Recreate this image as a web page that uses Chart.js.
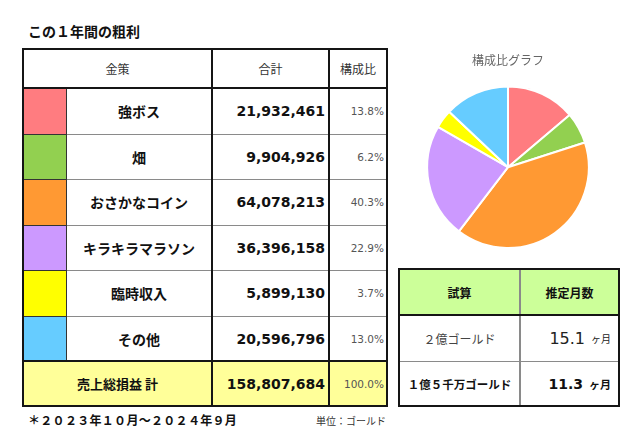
<!DOCTYPE html>
<html><head><meta charset="utf-8">
<script src="https://cdn.jsdelivr.net/npm/chart.js@4"></script>
<style>
html,body{margin:0;padding:0;background:#fff;width:640px;height:446px;overflow:hidden;}
body{position:relative;font-family:"Noto Sans CJK JP","Noto Sans",sans-serif;color:#111;}
.abs{position:absolute;box-sizing:border-box;}
.cell{position:absolute;display:flex;align-items:center;box-sizing:border-box;}
.hl{position:absolute;}
.num{font-family:"DejaVu Sans",sans-serif;font-weight:bold;font-size:14px;justify-content:flex-end;padding-right:4px;}
.pct{font-family:"DejaVu Sans",sans-serif;font-size:10.5px;color:#555;justify-content:flex-end;padding-right:3px;}
.name{font-weight:bold;font-size:14px;justify-content:center;}
.hdr{font-size:12px;color:#333;justify-content:center;}
</style></head>
<body>
<div class="abs" style="left:28px;top:21px;font-size:14px;font-weight:bold;">この１年間の粗利</div>
<div class="abs" style="left:28px;top:411px;font-size:12px;font-weight:bold;letter-spacing:0.3px;">＊２０２３年１０月～２０２４年９月</div>
<div class="abs" style="left:316px;top:413px;font-size:10px;color:#333;">単位：ゴールド</div>
<div id="tbl"></div>
<div class="abs" style="left:408px;top:53px;width:200px;height:196px;"><canvas id="c"></canvas></div>
<script>
const categories = ["強ボス","畑","おさかなコイン","キラキラマラソン","臨時収入","その他"];
const totals = [21932461, 9904926, 64078213, 36396158, 5899130, 20596796];
const shares = ["13.8%","6.2%","40.3%","22.9%","3.7%","13.0%"];
const colors = ["#FF7C80","#92D050","#FF9933","#CC99FF","#FFFF00","#66CCFF"];
const grandTotal = 158807684;
const grandShare = "100.0%";
const headers = ["金策","合計","構成比"];
const totalLabel = "売上総損益 計";
const estHeaders = ["試算","推定月数"];
const estTargets = ["２億ゴールド","１億５千万ゴールド"];
const estMonths = ["15.1","11.3"];
const monthUnit = "ヶ月";

const root = document.getElementById('tbl');
function cell(x0,y0,x1,y1,html,cls,bg,style){
  const d=document.createElement('div');d.className='cell '+(cls||'');
  d.style.left=x0+'px';d.style.top=y0+'px';d.style.width=(x1-x0)+'px';d.style.height=(y1-y0)+'px';
  if(bg)d.style.background=bg; if(style)d.style.cssText+=style;
  d.innerHTML=html||''; root.appendChild(d);
}
function hline(x0,x1,y,w,c){w=w||2;c=c||'#151515';const d=document.createElement('div');d.className='hl';d.style.background=c;d.style.left=(x0-1)+'px';d.style.top=(y-Math.floor(w/2))+'px';d.style.width=(x1-x0+2)+'px';d.style.height=w+'px';root.appendChild(d);}
function vline(x,y0,y1,w,c){w=w||2;c=c||'#151515';const d=document.createElement('div');d.className='hl';d.style.background=c;d.style.left=(x-Math.floor(w/2))+'px';d.style.top=(y0-1)+'px';d.style.width=w+'px';d.style.height=(y1-y0+2)+'px';root.appendChild(d);}
const fmt=n=>n.toLocaleString('en-US');

// main table
const X=[23,66,212,329,387];
const Y=[49,88,134,179,225,270,316,361,406];
cell(X[0],Y[0],X[2],Y[1],headers[0],'hdr');
cell(X[2],Y[0],X[3],Y[1],headers[1],'hdr');
cell(X[3],Y[0],X[4],Y[1],headers[2],'hdr');
categories.forEach((c,i)=>{
  const y0=Y[i+1],y1=Y[i+2];
  cell(X[0],y0,X[1],y1,'','',colors[i]);
  cell(X[1],y0,X[2],y1,c,'name');
  cell(X[2],y0,X[3],y1,fmt(totals[i]),'num');
  cell(X[3],y0,X[4],y1,shares[i],'pct');
});
cell(X[0],Y[7],X[2],Y[8],totalLabel,'name','#FFFF99','font-size:13px;');
cell(X[2],Y[7],X[3],Y[8],fmt(grandTotal),'num','#FFFF99');
cell(X[3],Y[7],X[4],Y[8],grandShare,'pct','#FFFF99');
for(let i=2;i<=6;i++){hline(X[1],X[4],Y[i],1,'#8a8a8a');hline(X[0],X[1],Y[i],1,'#333');}
vline(X[1],Y[1],Y[7],1,'#333');
[Y[0],Y[1],Y[7],Y[8]].forEach(y=>hline(X[0],X[4],y));
vline(X[0],Y[0],Y[8]);vline(X[4],Y[0],Y[8]);
vline(X[2],Y[0],Y[8]);vline(X[3],Y[0],Y[8]);

// estimate table
const RX=[399,520,619];
const RY=[269,315,361,406];
cell(RX[0],RY[0],RX[1],RY[1],estHeaders[0],'hdr','#CCFF99','font-weight:bold;color:#111;');
cell(RX[1],RY[0],RX[2],RY[1],estHeaders[1],'hdr','#CCFF99','font-weight:bold;color:#111;');
cell(RX[0],RY[1],RX[1],RY[2],estTargets[0],'hdr','','color:#444;');
cell(RX[1],RY[1],RX[2],RY[2],'<span style="font-family:DejaVu Sans;font-size:16px;">'+estMonths[0]+'</span><span style="font-size:10px;margin-left:6px;">'+monthUnit+'</span>','','', 'justify-content:flex-end;padding-right:8px;color:#222;');
cell(RX[0],RY[2],RX[1],RY[3],estTargets[1],'hdr','','font-weight:bold;color:#111;font-size:11.5px;');
cell(RX[1],RY[2],RX[2],RY[3],'<span style="font-family:DejaVu Sans;font-size:14px;font-weight:bold;">'+estMonths[1]+'</span><span style="font-size:11px;font-weight:bold;margin-left:6px;">'+monthUnit+'</span>','','', 'justify-content:flex-end;padding-right:8px;color:#111;');
hline(RX[0],RX[2],RY[2],1,'#8a8a8a');
vline(RX[1],RY[0],RY[3],2,'#8a8a8a');
[RY[0],RY[1],RY[3]].forEach(y=>hline(RX[0],RX[2],y));
vline(RX[0],RY[0],RY[3]);vline(RX[2],RY[0],RY[3]);

new Chart(document.getElementById('c'),{
  type:'pie',
  data:{labels:categories,datasets:[{data:totals,backgroundColor:colors,borderColor:'#fff',borderWidth:2}]},
  options:{responsive:true,maintainAspectRatio:false,animation:false,
    layout:{padding:0},
    plugins:{legend:{display:false},tooltip:{enabled:false},
      title:{display:true,text:'構成比グラフ',color:'#666',font:{size:12,weight:'normal',family:'"Noto Sans CJK JP"'},padding:{top:0,bottom:18}}}}
});
</script>
</body></html>
